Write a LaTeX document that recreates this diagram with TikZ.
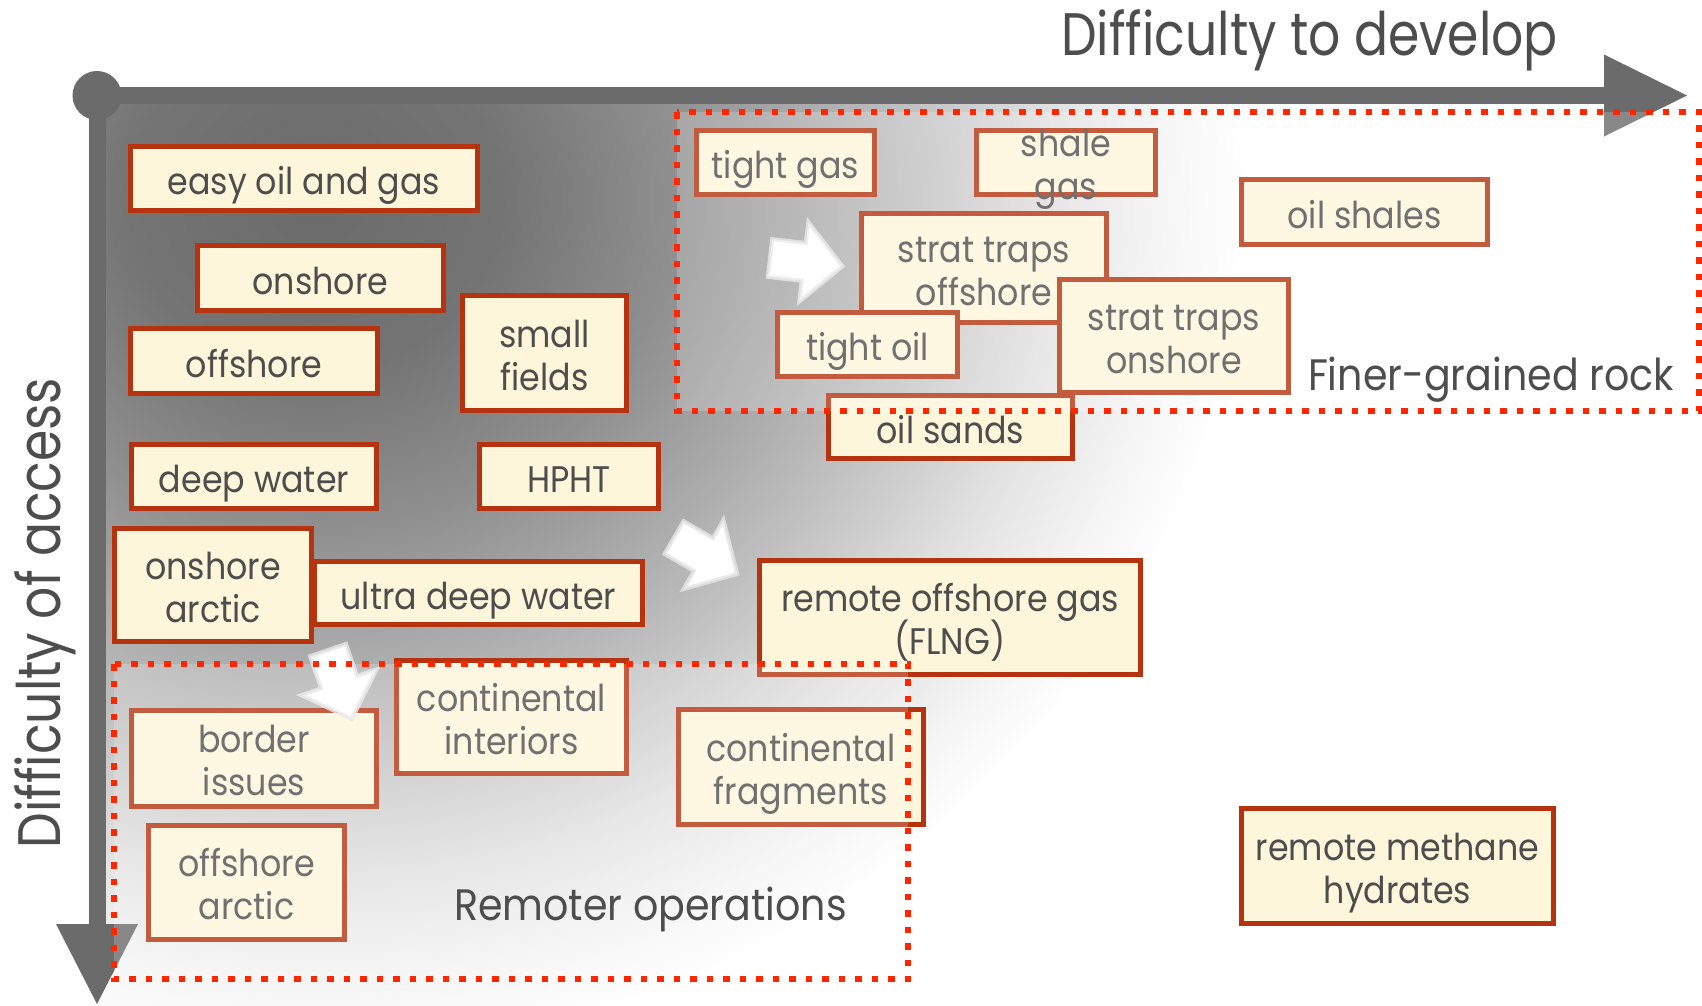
\documentclass[tikz,border=0pt]{standalone}
\usepackage{fontspec}
\setmainfont{Poppins}[FakeStretch=0.9]
\newfontfamily\axfamily{Poppins}[FakeStretch=0.84]
\definecolor{axisgray}{RGB}{107,107,107}
\definecolor{boxborder}{RGB}{181,51,15}
\definecolor{boxfill}{RGB}{254,246,218}
\definecolor{textgray}{RGB}{77,77,77}
\definecolor{dotred}{RGB}{255,38,0}
\pgfdeclareradialshading{bgshade}{\pgfpoint{0bp}{0bp}}{color(0bp)=(black!58); color(5bp)=(black!54.5); color(9.75bp)=(black!43.5); color(13bp)=(black!34); color(16.5bp)=(black!23); color(20bp)=(black!11.4); color(23bp)=(black!3.9); color(25bp)=(white); color(50bp)=(white)}
\newcommand\bxfont{\fontsize{37}{43}\selectfont}
\newcommand\onestrut{\rule{0pt}{32pt}}
\newcommand\twostrut{\rule{0pt}{31pt}}
\newcommand\axfont{\axfamily\fontsize{60}{72}\selectfont}
\newcommand\grfont{\fontsize{44}{53}\selectfont}
\tikzset{
  boxbase/.style 2 args={draw=boxborder, fill=boxfill, line width=5pt, text=textgray,
    align=center, inner sep=0pt, minimum width=#1pt, minimum height=#2pt, font=\bxfont},
  box/.style 2 args={boxbase={#1}{#2}, execute at begin node=\onestrut},
  boxii/.style 2 args={boxbase={#1}{#2}},
  boxtext/.style={text=textgray, align=center, inner sep=0pt, font=\bxfont},
  axisbar/.style={draw=axisgray, line width=17pt},
  axishead/.style={fill=axisgray},
  whitearrow/.style={fill=white, draw=white!90!black, draw opacity=0.8, line width=4pt, line join=miter},
  region/.style={fill=white, fill opacity=0.2, draw=dotred, draw opacity=1, line width=6.5pt, dash pattern=on 6.5pt off 10pt},
  grouplabel/.style={text=textgray, font=\grfont, inner sep=0pt, anchor=base},
  axislabel/.style={text=textgray, font=\axfont, inner sep=0pt, anchor=base},
}
\begin{document}
\begin{tikzpicture}[x=1pt,y=-1pt]
\fill[white] (0,0) rectangle (1702,1005);
\useasboundingbox (0,0) rectangle (1702,1005);
% background gradient
\begin{scope}
  \clip (97,95.5) rectangle (1702,1005);
  \shade[shading=bgshade] (316,200) ellipse [x radius=930pt, y radius=853pt];
\end{scope}
% axes
\coordinate (origin) at (97,95.5);
\coordinate (xbase) at (1604,95.5);
\coordinate (xtip) at (1687,95.5);
\coordinate (ybase) at (97,924);
\coordinate (ytip) at (97,1004);
\draw[axisbar] (origin) -- (xbase);
\draw[axisbar] (origin) -- (ybase);
\fill[axishead] (origin) circle[radius=24.5pt];
\fill[axishead] ([yshift=41pt]xbase) -- (xtip) -- ([yshift=-41pt]xbase) -- cycle;
\fill[axishead] ([xshift=-41pt]ybase) -- (ytip) -- ([xshift=41pt]ybase) -- cycle;
% boxes
\node[box={347}{64}] (easy) at (304,178.5) {\smash{easy oil and gas}};
\node[box={246}{65}] (onshore) at (320.5,278) {\smash{onshore}};
\node[box={247}{65}] (offshore) at (254,361) {\smash{offshore}};
\node[boxii={164}{115}] (small) at (544.5,353) {\twostrut\smash{small}\\\smash{fields}};
\node[box={245}{64}] (deep) at (254,476.5) {\smash{deep water}};
\node[box={179}{64}] (hpht) at (569,476.5) {\smash{HPHT}};
\node[box={328}{63}] (ultra) at (478.5,593) {\smash{ultra deep water}};
\node[boxii={197}{113}] (onarctic) at (213,585) {\twostrut\smash{onshore}\\\smash{arctic}};
\node[box={178}{64}] (tightgas) at (785.5,162.5) {\smash{tight gas}};
\node[boxbase={179}{64}] (shale) at (1066,162.5) {};
\node[boxtext] (shaletext) at (shale.center) {\twostrut\smash{shale}\\\smash{gas}};
\node[box={246}{65}] (oilshales) at (1364.5,212) {\smash{oil shales}};
\node[boxii={245}{109}] (stratoff) at (984,268) {\twostrut\smash{strat traps}\\\smash{offshore}};
\node[box={180}{64}] (tightoil) at (867.5,344.5) {\smash{tight oil}};
\node[boxii={229}{113}] (straton) at (1174,336) {\twostrut\smash{strat traps}\\\smash{onshore}};
\node[box={244}{63}] (oilsands) at (950.5,427) {\smash{oil sands}};
\node[boxii={381}{114}] (remgas) at (950,617.5) {\twostrut\smash{remote offshore gas}\\\smash{(FLNG)}};
\node[boxii={245}{96}] (border) at (254,758.5) {\twostrut\smash{border}\\\smash{issues}};
\node[boxii={230}{113}] (contint) at (511.5,717) {\twostrut\smash{continental}\\\smash{interiors}};
\node[boxii={196}{114}] (offarctic) at (246.5,882.5) {\twostrut\smash{offshore}\\\smash{arctic}};
\node[boxii={245}{115}] (contfrag) at (801,767) {\twostrut\smash{continental}\\\smash{fragments}};
\node[boxii={312}{115}] (methane) at (1397.5,866) {\twostrut\smash{remote methane}\\\smash{hydrates}};
% white block arrows
\begin{scope}[shift={(770,258)}, rotate=-6.5]
  \draw[whitearrow] (0,19) -- (34,19) -- (34,40) -- (73,0) -- (34,-40) -- (34,-19) -- (0,-19) -- cycle;
\end{scope}
\begin{scope}[shift={(328,650)}, rotate=-71]
  \draw[whitearrow] (0,19) -- (34,19) -- (34,40) -- (73,0) -- (34,-40) -- (34,-19) -- (0,-19) -- cycle;
\end{scope}
\begin{scope}[shift={(674,537.5)}, rotate=-30]
  \draw[whitearrow] (0,19) -- (34,19) -- (34,40) -- (73,0) -- (34,-40) -- (34,-19) -- (0,-19) -- cycle;
\end{scope}
% dotted regions
\draw[region] (677,112) rectangle (1699,411);
\draw[region] (114,664) rectangle (908,979);
% labels
\node[grouplabel] (finer) at (1491,390) {Finer-grained rock};
\node[grouplabel] (remoter) at (650.5,920) {Remoter operations};
\node[axislabel] (xlabel) at (1309.5,55) {Difficulty to develop};
\node[axislabel, rotate=90] (ylabel) at (60,613) {Difficulty of access};
\end{tikzpicture}
\end{document}
